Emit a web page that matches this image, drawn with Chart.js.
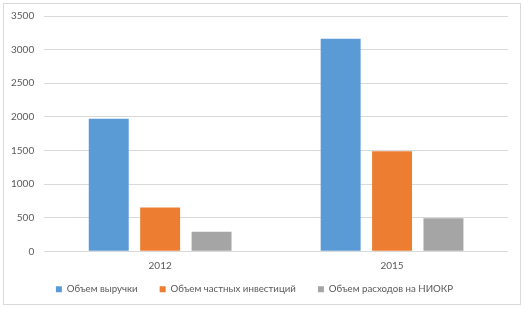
<!DOCTYPE html>
<html>
<head>
<meta charset="utf-8">
<script src="https://cdn.jsdelivr.net/npm/chart.js@4"></script>
<style>
  body { margin: 0; background: #fff; }
  #wrap { position: absolute; left: 3px; top: 3px; width: 516px; height: 300px; border: 1px solid #d9d9d9; }
  #inner { position: absolute; left: 0; right: 0; top: -4px; bottom: 0; }
</style>
</head>
<body>
<div id="wrap"><div id="inner"><canvas id="myChart"></canvas></div></div>
<script>
const years = ['2012', '2015'];
const revenue = [1970, 3160];
const privateInvest = [650, 1490];
const rdSpend = [290, 490];
const seriesNames = ['Объем выручки', 'Объем частных инвестиций', 'Объем расходов на НИОКР'];

const data = {
  labels: years,
  datasets: [
    { label: seriesNames[0], data: revenue, backgroundColor: '#5b9bd5' },
    { label: seriesNames[1], data: privateInvest, backgroundColor: '#ed7d31' },
    { label: seriesNames[2], data: rdSpend, backgroundColor: '#a5a5a5' }
  ]
};

Chart.defaults.font.family = 'Lato, sans-serif';
Chart.defaults.font.size = 10;
Chart.defaults.color = '#595959';

const config = {
  type: 'bar',
  data: data,
  options: {
    responsive: true,
    maintainAspectRatio: false,
    animation: false,
    categoryPercentage: 0.665,
    barPercentage: 0.777,
    layout: { padding: { left: -3, right: 12, top: 0, bottom: 0 } },
    plugins: {
      tooltip: { enabled: false },
      legend: {
        position: 'bottom',
        labels: {
          boxWidth: 6,
          boxHeight: 6,
          padding: 5,
          color: '#595959',
          font: { size: 9.7 },
          // wider gaps between items, like the original
          generateLabels: function (chart) {
            const items = Chart.defaults.plugins.legend.labels.generateLabels(chart);
            items.forEach(function (it, i) {
              if (i < items.length - 1) it.text = it.text + '\u2003\u2003 ';
            });
            return items;
          }
        }
      }
    },
    scales: {
      x: {
        grid: { display: false, drawTicks: false },
        border: { display: false },
        ticks: { padding: 8 }
      },
      y: {
        min: 0,
        max: 3500,
        ticks: { stepSize: 500, padding: 10, callback: function (v) { return v; } },
        grid: { color: '#d9d9d9', drawTicks: false },
        border: { display: false }
      }
    }
  }
};

var myChart = new Chart(document.getElementById('myChart'), config);
</script>
</body>
</html>
